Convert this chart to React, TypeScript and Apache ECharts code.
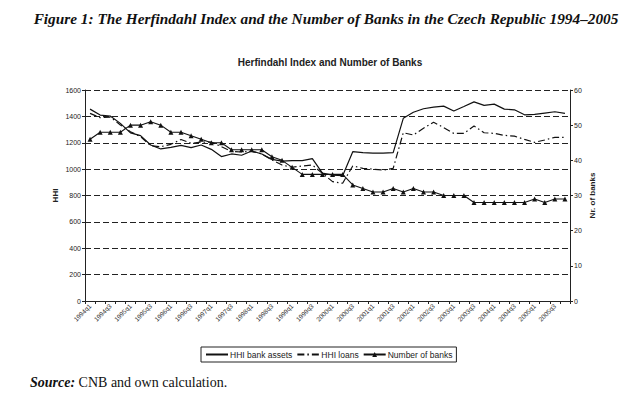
import React, { useEffect, useRef } from "react";
import * as echarts from "echarts";

const years = [1994, 1995, 1996, 1997, 1998, 1999, 2000, 2001, 2002, 2003, 2004, 2005];
const quarters = ["q1", "q2", "q3", "q4"];
const categories: string[] = [];
years.forEach((y) => quarters.forEach((q) => categories.push(`${y}${q}`)));

const hhiAssets = [
  1455, 1410, 1403, 1347, 1275, 1254, 1183, 1153, 1165, 1180, 1163, 1183,
  1150, 1095, 1115, 1105, 1137, 1115, 1074, 1060, 1065, 1065, 1080, 970,
  955, 950, 1132, 1125, 1122, 1122, 1125, 1385, 1431, 1458, 1470, 1478,
  1441, 1475, 1510, 1483, 1493, 1455, 1450, 1412, 1415, 1425, 1435, 1423,
];
const hhiLoans = [
  1423, 1390, 1395, 1335, 1284, 1246, 1178, 1170, 1188, 1225, 1196, 1205,
  1205, 1170, 1135, 1130, 1135, 1115, 1070, 1031, 1014, 1024, 1031, 968,
  905, 893, 1024, 1006, 1000, 993, 1006, 1276, 1259, 1310, 1355, 1315,
  1271, 1271, 1327, 1276, 1271, 1256, 1250, 1226, 1203, 1221, 1241, 1241,
];
const numBanks = [
  46, 48, 48, 48, 50, 50, 51, 50, 48, 48, 47, 46,
  45, 45, 43, 43, 43, 43, 41, 40, 38, 36, 36, 36,
  36, 36, 33, 32, 31, 31, 32, 31, 32, 31, 31, 30,
  30, 30, 28, 28, 28, 28, 28, 28, 29, 28, 29, 29,
];

const figureTitle = "Figure 1: The Herfindahl Index and the Number of Banks in the Czech Republic 1994\u20132005";
const chartTitle = "Herfindahl Index and Number of Banks";
const seriesNames = ["HHI bank assets", "HHI loans", "Number of banks"];

export default function App() {
  const ref = useRef<HTMLDivElement>(null);
  useEffect(() => {
    document.body.style.margin = "0";
    const chart = echarts.init(ref.current!, null, { renderer: "svg" });
    const sans = "Liberation Sans, Arial, sans-serif";
    const serif = "Liberation Serif, Times New Roman, serif";
    chart.setOption({
      animation: false,
      backgroundColor: "#fff",
      title: [
        {
          text: figureTitle,
          left: 321,
          textAlign: "center",
          top: 6,
          textStyle: { fontFamily: serif, fontSize: 15.3, fontWeight: "bold", fontStyle: "italic", color: "#111" },
        },
        {
          text: chartTitle,
          left: 325,
          textAlign: "center",
          top: 52,
          textStyle: { fontFamily: sans, fontSize: 10, fontWeight: "bold", color: "#222" },
        },
      ],
      graphic: [
        {
          type: "text",
          left: 30,
          top: 375,
          style: {
            text: "{b|Source:} CNB and own calculation.",
            rich: {
              b: { fontFamily: serif, fontSize: 14, fontWeight: "bold", fontStyle: "italic", fill: "#111" },
            },
            font: `14px ${serif}`,
            fill: "#111",
          },
        },
      ],
      legend: {
        left: 201,
        top: 347,
        orient: "horizontal",
        borderColor: "#222",
        borderWidth: 1,
        padding: [3, 4],
        itemGap: 4,
        itemWidth: 22,
        itemHeight: 6,
        textStyle: { fontFamily: sans, fontSize: 8.5, color: "#222", padding: [0, 0, 0, -3] },
        data: [
          { name: seriesNames[0], itemStyle: { opacity: 0 } },
          { name: seriesNames[1], itemStyle: { opacity: 0 } },
          { name: seriesNames[2] },
        ],
      },
      grid: { left: 85, right: 70, top: 90, bottom: 95, containLabel: false },
      xAxis: {
        type: "category",
        data: categories,
        boundaryGap: true,
        axisLine: { lineStyle: { color: "#222", width: 1 } },
        axisTick: { show: true, interval: 0, length: 3, lineStyle: { color: "#222" } },
        axisLabel: {
          interval: 1,
          rotate: 45,
          fontFamily: sans,
          fontSize: 6.5,
          color: "#333",
          margin: 4,
        },
        splitLine: { show: false },
      },
      yAxis: [
        {
          type: "value",
          min: 0,
          max: 1600,
          interval: 200,
          name: "HHI",
          nameLocation: "middle",
          nameGap: 26,
          nameMoveOverlap: false,
          nameTextStyle: { fontFamily: sans, fontSize: 8, fontWeight: "bold", color: "#222" },
          axisLine: { show: true, lineStyle: { color: "#222", width: 1 } },
          axisTick: { show: true, length: 3, lineStyle: { color: "#222" } },
          axisLabel: { fontFamily: sans, fontSize: 7, color: "#222", margin: 4, formatter: (v: number) => String(v) },
          splitLine: { show: true, lineStyle: { color: "#222", type: [6, 3], width: 1 } },
        },
        {
          type: "value",
          min: 0,
          max: 60,
          interval: 10,
          name: "Nr. of banks",
          nameLocation: "middle",
          nameGap: 18,
          nameRotate: 90,
          nameMoveOverlap: false,
          nameTextStyle: { fontFamily: sans, fontSize: 8, fontWeight: "bold", color: "#222" },
          position: "right",
          axisLine: { show: true, lineStyle: { color: "#222", width: 1 } },
          axisTick: { show: true, length: 3, lineStyle: { color: "#222" } },
          axisLabel: { fontFamily: sans, fontSize: 7, color: "#222", margin: 4 },
          splitLine: { show: false },
        },
      ],
      series: [
        {
          name: seriesNames[0],
          type: "line",
          data: hhiAssets,
          yAxisIndex: 0,
          symbol: "none",
          lineStyle: { color: "#111", width: 1.2 },
          itemStyle: { color: "#111" },
        },
        {
          name: seriesNames[1],
          type: "line",
          data: hhiLoans,
          yAxisIndex: 0,
          symbol: "none",
          lineStyle: { color: "#111", width: 1.2, type: [7, 3, 1.5, 3] },
          itemStyle: { color: "#111" },
        },
        {
          name: seriesNames[2],
          type: "line",
          data: numBanks,
          yAxisIndex: 1,
          symbol: "triangle",
          symbolSize: 5,
          showSymbol: true,
          lineStyle: { color: "#111", width: 1.1 },
          itemStyle: { color: "#111" },
        },
      ],
    });
    return () => chart.dispose();
  }, []);
  return <div ref={ref} style={{ width: 640, height: 396 }} />;
}
